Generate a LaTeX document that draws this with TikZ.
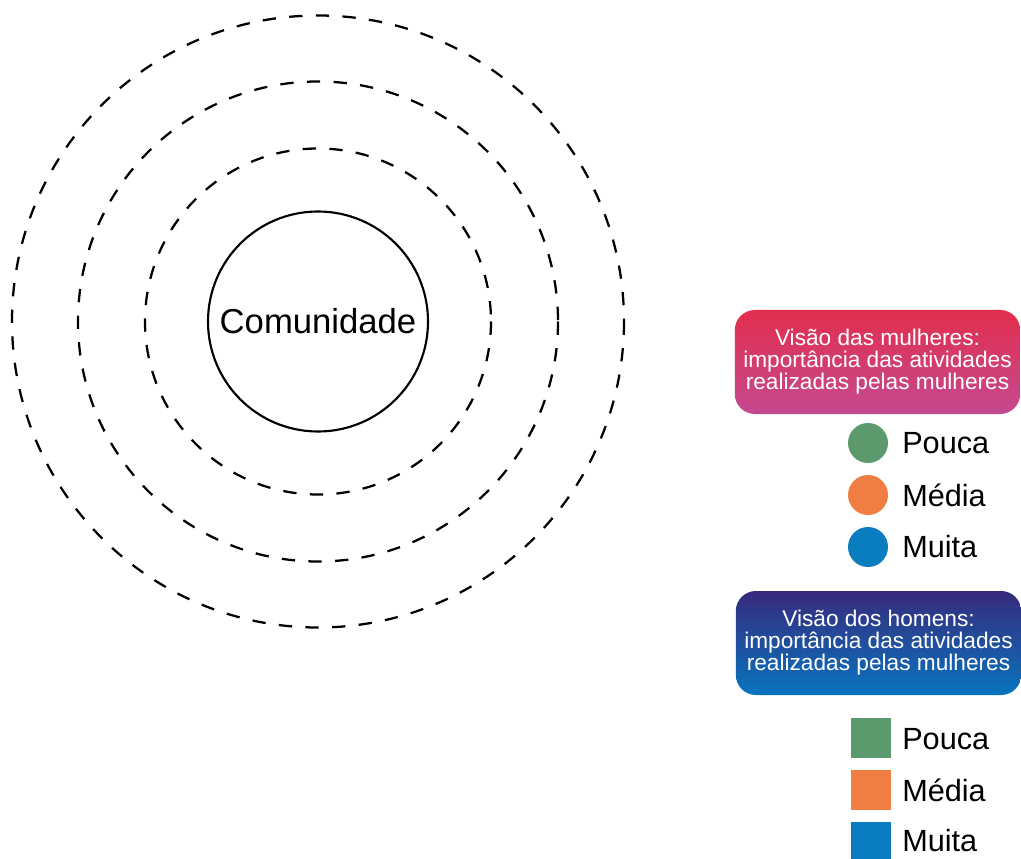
\documentclass[tikz,border=0pt]{standalone}
\usepackage{fontspec}
\setmainfont{Liberation Sans}
\definecolor{lgreen}{HTML}{5C9A6E}
\definecolor{lorange}{HTML}{EF7D44}
\definecolor{lblue}{HTML}{0A7DC1}
\definecolor{pinktop}{HTML}{E22E4E}
\definecolor{pinkbot}{HTML}{C44A90}
\definecolor{bluetop}{HTML}{372A7C}
\definecolor{bluebot}{HTML}{0874BE}
\tikzset{
  ring/.style={draw=black, line width=1.7pt, dash pattern=on 10pt off 10pt},
  headbox/.style={rounded corners=15pt, minimum width=214pt, minimum height=78pt, inner sep=0pt,
     text=white, align=center, font=\fontsize{17pt}{16.5pt}\selectfont},
  legdot/.style={circle, minimum size=30pt, inner sep=0pt},
  legsq/.style={minimum size=30pt, inner sep=0pt},
  legtext/.style={anchor=west, inner sep=0pt, font=\fontsize{23pt}{26pt}\selectfont}
}
\begin{document}
\begin{tikzpicture}[x=0.75pt, y=-0.75pt]
\useasboundingbox (0,0) rectangle (1021,859);
\coordinate (c) at (318,321.5);
\draw[ring] (c) circle[radius=173];
\draw[ring] (c) circle[radius=240];
\draw[ring] (c) circle[radius=306];
\node[draw, circle, line width=1.6pt, minimum size=165pt, inner sep=0pt,
      font=\fontsize{26pt}{30pt}\selectfont] (com) at (c) {Comunidade};

\node[headbox, top color=pinktop, bottom color=pinkbot] (hw) at (877.5,362)
  {Visão das mulheres:\\importância das atividades\\realizadas pelas mulheres};
\node[legdot, fill=lgreen] (w1) at (868,443) {};
\node[legdot, fill=lorange] (w2) at (868,495) {};
\node[legdot, fill=lblue] (w3) at (868,547) {};
\node[legtext] (tw1) at (902,443) {Pouca};
\node[legtext] (tw2) at (902,495) {Média};
\node[legtext] (tw3) at (902,547) {Muita};

\node[headbox, top color=bluetop, bottom color=bluebot] (hm) at (878.5,643)
  {Visão dos homens:\\importância das atividades\\realizadas pelas mulheres};
\node[legsq, fill=lgreen] (m1) at (871,738) {};
\node[legsq, fill=lorange] (m2) at (871,789.5) {};
\node[legsq, fill=lblue] (m3) at (871,842) {};
\node[legtext] (tm1) at (902,739) {Pouca};
\node[legtext] (tm2) at (902,790) {Média};
\node[legtext] (tm3) at (902,841) {Muita};
\end{tikzpicture}
\end{document}
